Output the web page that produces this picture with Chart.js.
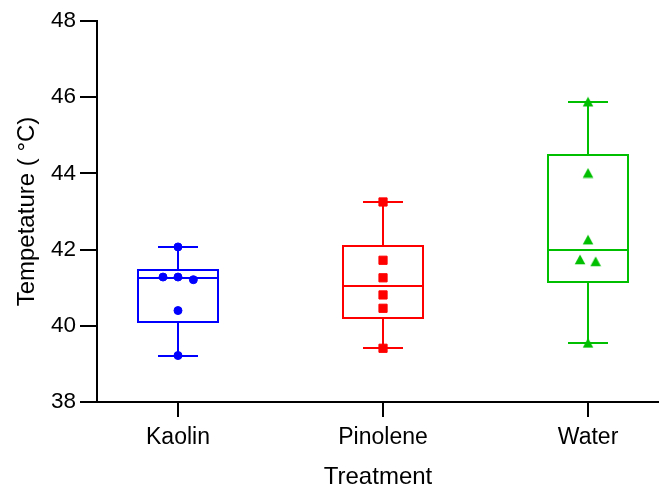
<!DOCTYPE html>
<html>
<head>
<meta charset="utf-8">
<title>Temperature by treatment</title>
<script src="https://cdn.jsdelivr.net/npm/chart.js@4/dist/chart.umd.min.js"></script>
<style>
  html, body { margin: 0; padding: 0; background: #ffffff; }
  #wrap { width: 659px; height: 489px; position: relative; }
</style>
</head>
<body>
<div id="wrap"><canvas id="chart"></canvas></div>
<script>
// Treatment groups and the individual temperature readings (°C)
const categories = ['Kaolin', 'Pinolene', 'Water'];
const kaolinTemps = [42.07, 41.28, 41.28, 41.21, 40.40, 39.22];
const pinoleneTemps = [43.25, 41.72, 41.26, 40.81, 40.46, 39.41];
const waterTemps = [45.88, 44.01, 42.26, 41.74, 41.69, 39.55];

// Sideways nudge for points that would overlap (fraction of a category step)
const kaolinNudge = [0, -0.073, 0, 0.075, 0, 0];
const pinoleneNudge = [0, 0, 0, 0, 0, 0];
const waterNudge = [0, 0, 0, -0.039, 0.037, 0];

// Value-axis tick labels
const yTicks = [38, 40, 42, 44, 46, 48];

const groupTemps = [kaolinTemps, pinoleneTemps, waterTemps];
const groupNudge = [kaolinNudge, pinoleneNudge, waterNudge];
const groupColors = ['#0000ff', '#ff0000', '#00bf00'];

const FONT = "'Liberation Sans', Arial, Helvetica, sans-serif";
const BOX_WIDTH = 0.39;   // in category steps
const CAP_WIDTH = 0.195;

// Upward triangle centred on its bounding box
function makeTriangle(color) {
  const c = document.createElement('canvas');
  c.width = 12; c.height = 11;
  const g = c.getContext('2d');
  g.fillStyle = color;
  g.beginPath();
  g.moveTo(6, 0.5);
  g.lineTo(11.3, 10.3);
  g.lineTo(0.7, 10.3);
  g.closePath();
  g.fill();
  return c;
}

// Percentile with (n + 1) interpolation
function quantile(sorted, p) {
  const n = sorted.length;
  const pos = p * (n + 1);
  if (pos <= 1) return sorted[0];
  if (pos >= n) return sorted[n - 1];
  const lo = Math.floor(pos);
  const frac = pos - lo;
  return sorted[lo - 1] + frac * (sorted[lo] - sorted[lo - 1]);
}

// Box, median and min–max whiskers for each group, drawn beneath the points
const boxWhiskerPlugin = {
  id: 'boxWhisker',
  beforeDatasetsDraw(chart) {
    const { ctx, scales: { x, y } } = chart;
    groupTemps.forEach((vals, i) => {
      const s = [...vals].sort((a, b) => a - b);
      const q1 = quantile(s, 0.25);
      const med = quantile(s, 0.5);
      const q3 = quantile(s, 0.75);
      const lo = s[0];
      const hi = s[s.length - 1];
      const cx = Math.round(x.getPixelForValue(i + 1));
      const bl = Math.round(x.getPixelForValue(i + 1 - BOX_WIDTH / 2));
      const br = Math.round(x.getPixelForValue(i + 1 + BOX_WIDTH / 2));
      const cl = Math.round(x.getPixelForValue(i + 1 - CAP_WIDTH / 2));
      const cr = Math.round(x.getPixelForValue(i + 1 + CAP_WIDTH / 2));
      const py = v => Math.round(y.getPixelForValue(v));
      ctx.save();
      ctx.strokeStyle = groupColors[i];
      ctx.lineWidth = 2;
      ctx.lineCap = 'butt';
      ctx.beginPath();
      ctx.rect(bl, py(q3), br - bl, py(q1) - py(q3));
      ctx.moveTo(bl, py(med)); ctx.lineTo(br, py(med));
      ctx.moveTo(cx, py(q3)); ctx.lineTo(cx, py(hi));
      ctx.moveTo(cx, py(q1)); ctx.lineTo(cx, py(lo));
      ctx.moveTo(cl, py(hi)); ctx.lineTo(cr, py(hi));
      ctx.moveTo(cl, py(lo)); ctx.lineTo(cr, py(lo));
      ctx.stroke();
      ctx.restore();
    });
  }
};

const pointStyles = ['circle', 'rect', makeTriangle(groupColors[2])];
const pointRadii = [4, 5.8, 6];

const datasets = groupTemps.map((vals, i) => ({
  label: categories[i],
  data: vals.map((v, k) => ({ x: i + 1 + groupNudge[i][k], y: v })),
  pointStyle: pointStyles[i],
  pointRadius: pointRadii[i],
  pointBorderWidth: 1,
  backgroundColor: groupColors[i],
  borderColor: groupColors[i],
  showLine: false,
  clip: false
}));

new Chart(document.getElementById('chart'), {
  type: 'scatter',
  data: { datasets },
  plugins: [boxWhiskerPlugin],
  options: {
    responsive: true,
    maintainAspectRatio: false,
    animation: false,
    events: [],
    layout: { autoPadding: false, padding: { top: 21, right: 0, bottom: 0, left: 0 } },
    plugins: {
      legend: { display: false },
      tooltip: { enabled: false }
    },
    scales: {
      x: {
        type: 'linear',
        min: 0.605,
        max: 3.346,
        afterBuildTicks: s => { s.ticks = categories.map((_, i) => ({ value: i + 1 })); },
        afterFit: s => { s.height = 87; s.paddingLeft = 0; s.paddingRight = 0; },
        grid: { drawOnChartArea: false, drawTicks: true, tickLength: 15, color: '#000', lineWidth: 2 },
        border: { display: true, color: '#000', width: 2 },
        ticks: {
          callback: v => categories[Math.round(v) - 1],
          color: '#000',
          font: { family: FONT, size: 23 },
          padding: 6.5,
          maxRotation: 0,
          autoSkip: false
        },
        title: {
          display: true,
          text: 'Treatment',
          color: '#000',
          font: { family: FONT, size: 24, lineHeight: 1 },
          padding: { top: 0, bottom: 0 }
        }
      },
      y: {
        type: 'linear',
        min: 38,
        max: 48,
        afterBuildTicks: s => { s.ticks = yTicks.map(v => ({ value: v })); },
        afterFit: s => { s.width = 97; },
        grid: { drawOnChartArea: false, drawTicks: true, tickLength: 17, color: '#000', lineWidth: 2 },
        border: { display: true, color: '#000', width: 2 },
        ticks: {
          color: '#000',
          font: { family: FONT, size: 22.5 },
          padding: 4
        },
        title: {
          display: true,
          text: 'Tempetature ( °C)',
          color: '#000',
          font: { family: FONT, size: 24, lineHeight: 1.2 },
          padding: { top: 13, bottom: 0 }
        }
      }
    }
  }
});
</script>
</body>
</html>
